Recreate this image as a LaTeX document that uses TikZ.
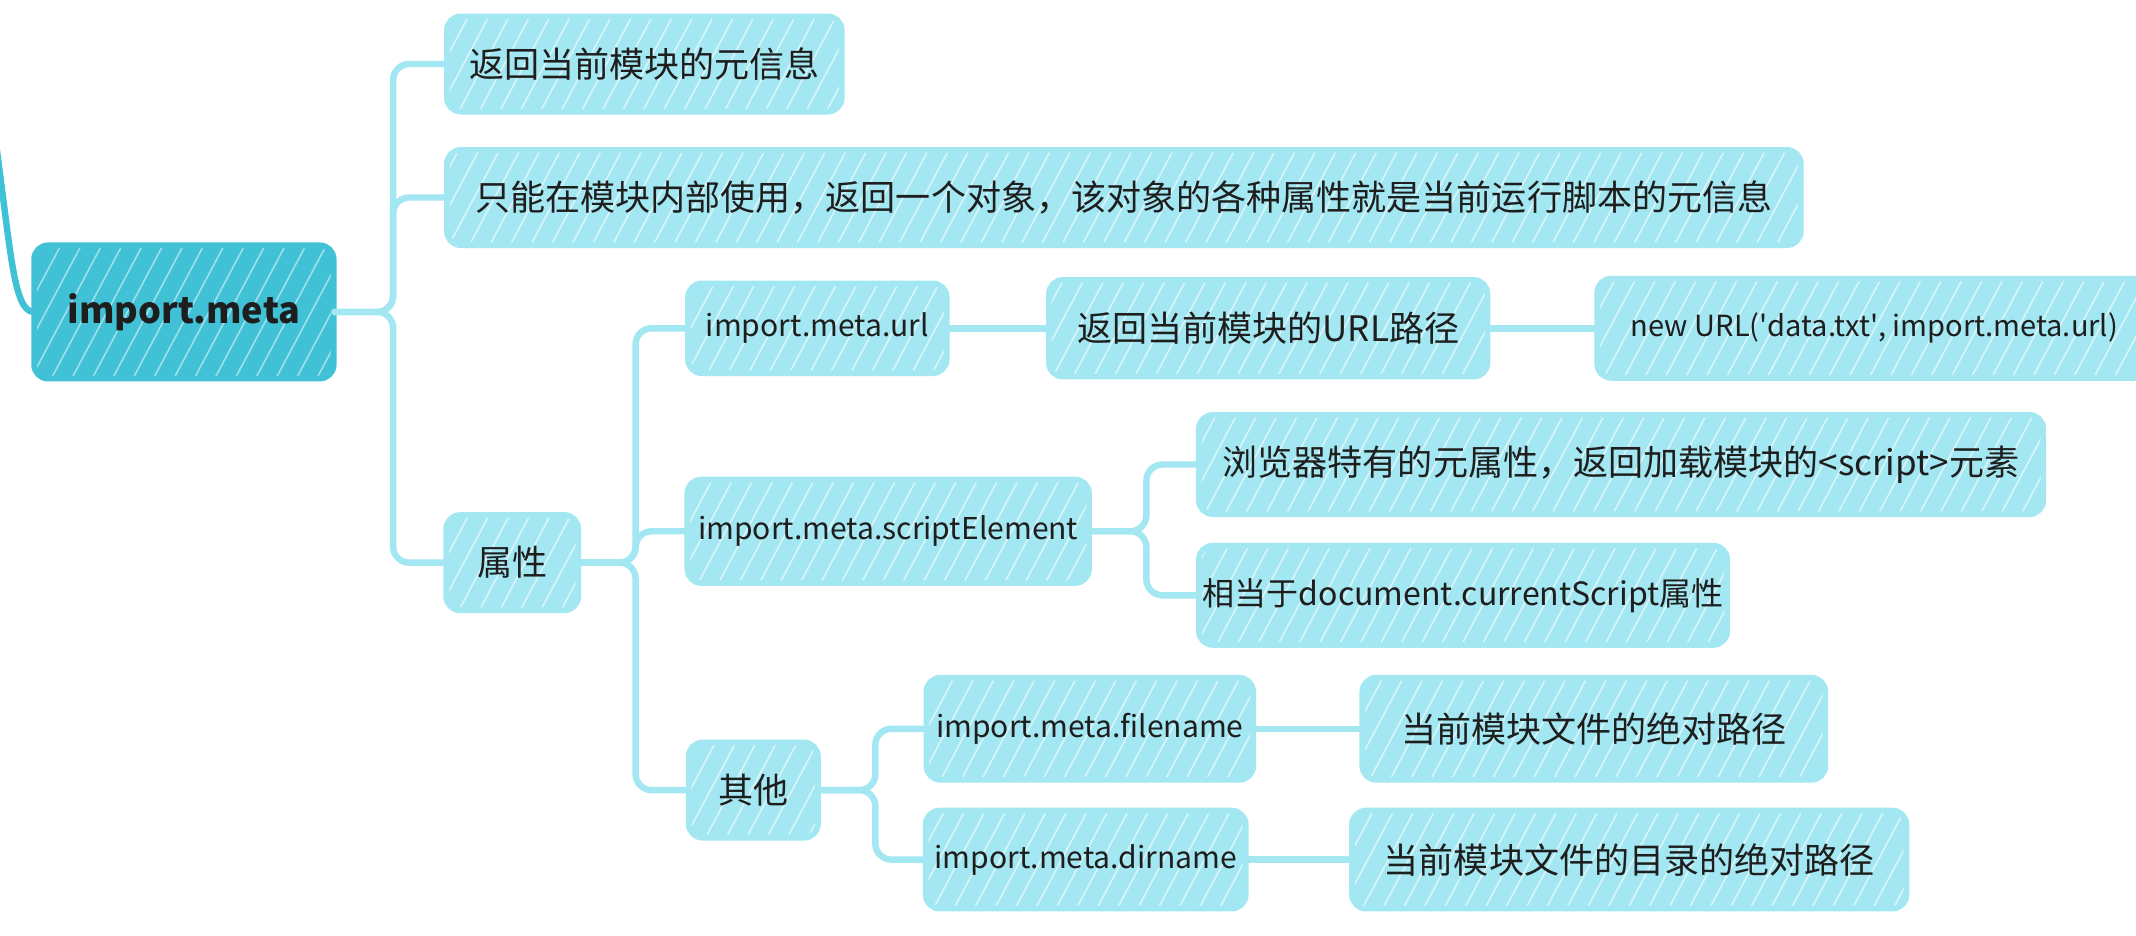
\documentclass[tikz,border=0pt]{standalone}
\usepackage{fontspec}
\setmainfont{Noto Sans CJK SC}
\usetikzlibrary{patterns.meta}

\definecolor{leaf}{HTML}{A2E7F1}
\definecolor{rootc}{HTML}{40C1D5}
\definecolor{ink}{HTML}{1E1E1E}

\tikzset{
  x=0.68pt, y=-0.68pt,
  card/.style={rounded corners=7pt, line width=2.8pt, inner sep=0pt,
    text=ink, align=center,
    pattern={Lines[angle=62,distance=9pt,line width=0.8pt]}},
  leafbox/.style={card, draw=leaf, preaction={fill=leaf},
    pattern color=white!60!leaf},
  rootbox/.style={card, draw=rootc, preaction={fill=rootc},
    pattern color=white!50!rootc,
    font=\bfseries\fontsize{18pt}{22pt}\selectfont},
  zh/.style={font=\fontsize{17.5pt}{21pt}\selectfont},
  mix/.style={font=\fontsize{16pt}{20pt}\selectfont},
  code/.style={font=\fontsize{15pt}{19pt}\selectfont},
  conn/.style={draw=leaf, line width=3.2pt, rounded corners=8pt, line cap=round},
  rootconn/.style={draw=rootc, line width=3.2pt, line cap=round},
}

\begin{document}
\begin{tikzpicture}
\useasboundingbox (0,0) rectangle (1568,687);
\clip (0,0) rectangle (1568,687);

% root and first level
\node[rootbox, minimum width=149.6pt, minimum height=66.6pt] (root) at (135,229) {import.meta};
\node[leafbox, zh, minimum width=197.2pt, minimum height=47.6pt] (info) at (473,47) {返回当前模块的元信息};
\node[leafbox, zh, minimum width=675.9pt, minimum height=47.6pt] (only) at (825,145) {只能在模块内部使用，返回一个对象，该对象的各种属性就是当前运行脚本的元信息};
\node[leafbox, zh, minimum width=66pt, minimum height=47.6pt] (props) at (376,413) {属性};

% properties
\node[leafbox, code, minimum width=129.2pt, minimum height=44.9pt] (url) at (600,241) {import.meta.url};
\node[leafbox, code, minimum width=200.6pt, minimum height=51.7pt] (se) at (652,390) {import.meta.scriptElement};
\node[leafbox, zh, minimum width=64.6pt, minimum height=47.6pt] (other) at (553,580) {其他};

% import.meta.url
\node[leafbox, zh, minimum width=219pt, minimum height=48.3pt] (urlpath) at (931,241) {返回当前模块的URL路径};
\node[leafbox, code, font=\fontsize{14.5pt}{18pt}\selectfont, minimum width=276.8pt, minimum height=49.6pt] (newurl) at (1376,241) {new URL(\textquotesingle data.txt\textquotesingle, import.meta.url)};

% import.meta.scriptElement
\node[leafbox, zh, minimum width=421.6pt, minimum height=49.6pt] (browser) at (1190,341) {浏览器特有的元属性，返回加载模块的<script>元素};
\node[leafbox, mix, minimum width=263.8pt, minimum height=49.6pt] (equiv) at (1074,437) {相当于document.currentScript属性};

% other
\node[leafbox, code, minimum width=163.2pt, minimum height=51pt] (fname) at (800,535) {import.meta.filename};
\node[leafbox, code, minimum width=159.8pt, minimum height=49pt] (dname) at (797,631) {import.meta.dirname};
\node[leafbox, zh, minimum width=231.2pt, minimum height=51pt] (fpath) at (1170,535) {当前模块文件的绝对路径};
\node[leafbox, zh, minimum width=276.8pt, minimum height=49pt] (dpath) at (1196,631) {当前模块文件的目录的绝对路径};

% link coming in from the parent topic
\coordinate (up) at (-3,105);
\draw[rootconn] (up) .. controls (8,185) and (10,228) .. (root.west);

% connectors
\draw[conn] (root.east) -- ++(43,0) |- (info.west);
\draw[conn] (root.east) -- ++(43,0) |- (only.west);
\draw[conn] (root.east) -- ++(43,0) |- (props.west);

\draw[conn] (props.east) -- ++(40,0) |- (url.west);
\draw[conn] (props.east) -- ++(40,0) |- (se.west);
\draw[conn] (props.east) -- ++(40,0) |- (other.west);

\draw[conn] (url.east) -- (urlpath.west);
\draw[conn] (urlpath.east) -- (newurl.west);

\draw[conn] (se.east) -- ++(40,0) |- (browser.west);
\draw[conn] (se.east) -- ++(40,0) |- (equiv.west);

\draw[conn] (other.east) -- ++(40,0) |- (fname.west);
\draw[conn] (other.east) -- ++(40,0) |- (dname.west);

\draw[conn] (fname.east) -- (fpath.west);
\draw[conn] (dname.east) -- (dpath.west);
\end{tikzpicture}
\end{document}
